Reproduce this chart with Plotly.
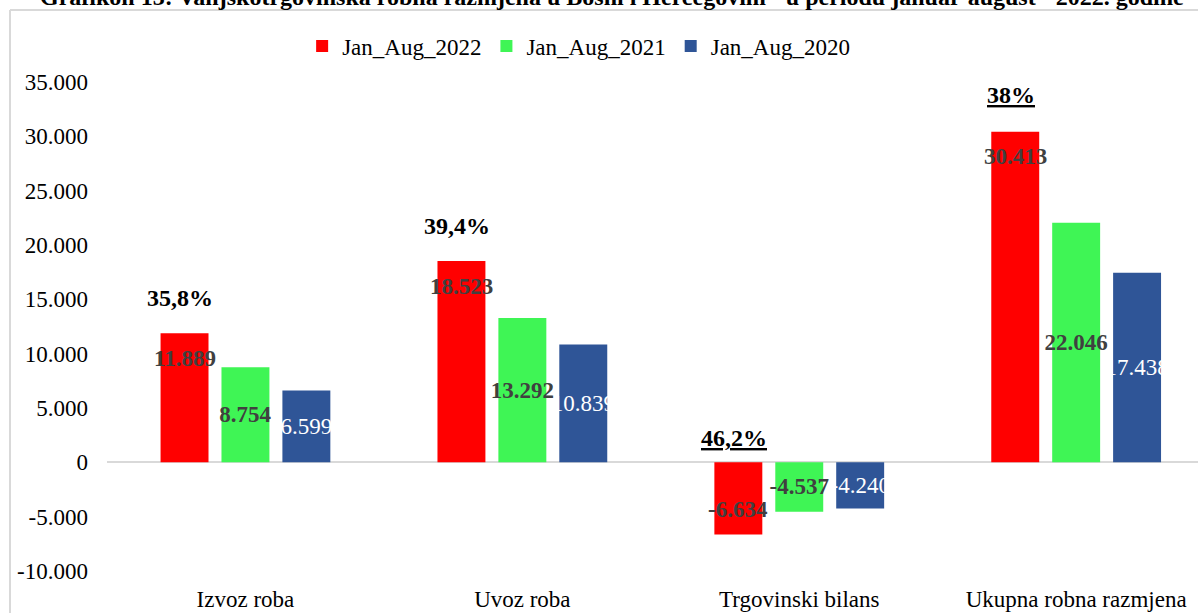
import plotly.graph_objects as go

# ---------------- data ----------------
categories = ["Izvoz roba", "Uvoz roba", "Trgovinski bilans", "Ukupna robna razmjena"]
series_names = ["Jan_Aug_2022", "Jan_Aug_2021", "Jan_Aug_2020"]
values_2022 = [11889, 18523, -6634, 30413]
values_2021 = [8754, 13292, -4537, 22046]
values_2020 = [6599, 10839, -4240, 17438]
pct_labels = ["35,8%", "39,4%", "46,2%", "38%"]
pct_underlined = [False, False, True, True]
y_tickvals = [-10000, -5000, 0, 5000, 10000, 15000, 20000, 25000, 30000, 35000]
y_ticktext = ["-10.000", "-5.000", "0", "5.000", "10.000", "15.000", "20.000", "25.000", "30.000", "35.000"]
title_text = ("Grafikon 13: Vanjskotrgovinska robna razmjena u Bosni i Hercegovini - "
              "u periodu januar-august - 2022. godine")

# ---------------- style ----------------
W, H = 1198, 613
ML, MR, MT, MB = 107, 0, 82, 42
FONT = "Liberation Serif"
colors = ["#FF0000", "#3FF555", "#2F5597"]
label_colors = ["#404040", "#404040", "#FFFFFF"]
label_bold = [True, True, False]
FS = 23

def fmt(v):
    s = f"{abs(v):,}".replace(",", ".")
    return ("-" if v < 0 else "") + s

x_pos = list(range(len(categories)))
all_series = [values_2022, values_2021, values_2020]

fig = go.Figure()
for k, (name, vals) in enumerate(zip(series_names, all_series)):
    texts = [f"<b>{fmt(v)}</b>" if label_bold[k] else fmt(v) for v in vals]
    fig.add_trace(go.Bar(
        x=x_pos, y=vals, name=name,
        marker=dict(color=colors[k], line=dict(width=0)),
        text=None if k == 0 else texts,
        textposition="inside",
        insidetextanchor="middle",
        textangle=0,
        constraintext="none",
        textfont=dict(family=FONT, size=FS, color=label_colors[k]),
        hoverinfo="skip",
    ))

bargap = 0.34
bargroupgap = 0.213
slot = (1 - bargap) / 3
red_off = -slot

annotations = []
# red data labels (placed near the bar end)
for i, v in enumerate(values_2022):
    annotations.append(dict(
        x=i + red_off, y=v, xref="x", yref="y",
        text=f"<b>{fmt(v)}</b>", showarrow=False,
        yanchor="middle", yshift=-25 if v > 0 else 25,
        font=dict(family=FONT, size=FS, color=label_colors[0]),
    ))
# growth percentages
pct_shift = [20, 20, 9, 22]
for i, (lab, ul) in enumerate(zip(pct_labels, pct_underlined)):
    v = max(values_2022[i], 0)
    f = dict(family=FONT, size=24, color="#000000", weight="bold")
    if ul:
        f["lineposition"] = "under"
    annotations.append(dict(
        x=i + red_off - 0.015, y=v, xref="x", yref="y",
        text=lab, showarrow=False, yanchor="bottom", yshift=pct_shift[i],
        font=f,
    ))

plot_w = W - ML - MR
plot_h = H - MT - MB

def px_x(p):
    return (p - ML) / plot_w

def px_y(p):
    return (H - MB - p) / plot_h

# cropped title at the very top
annotations.append(dict(
    x=px_x(612), y=px_y(12), xref="paper", yref="paper",
    text=f"<b>{title_text}</b>", showarrow=False,
    xanchor="center", yanchor="bottom",
    font=dict(family=FONT, size=24, color="#000000"),
))

shapes = [
    dict(type="line", xref="paper", yref="paper",
         x0=px_x(10), y0=px_y(H + 5), x1=px_x(10), y1=px_y(10),
         line=dict(color="#D9D9D9", width=2)),
    dict(type="line", xref="paper", yref="paper",
         x0=px_x(10), y0=px_y(10), x1=px_x(W + 5), y1=px_y(10),
         line=dict(color="#D9D9D9", width=2)),
]

fig.update_layout(
    width=W, height=H,
    margin=dict(l=ML, r=MR, t=MT, b=MB, pad=0),
    paper_bgcolor="white", plot_bgcolor="white",
    barmode="group", bargap=bargap, bargroupgap=bargroupgap,
    font=dict(family=FONT, size=FS, color="#000000"),
    showlegend=True,
    legend=dict(orientation="h", xref="container", yref="container",
                x=0.483, y=1 - 46 / H, xanchor="center", yanchor="middle",
                font=dict(family=FONT, size=FS, color="#000000"),
                itemwidth=30, traceorder="normal", bgcolor="rgba(0,0,0,0)"),
    xaxis=dict(range=[-0.5, 3.44], tickvals=x_pos, ticktext=categories,
               showgrid=False, zeroline=False, showline=False, ticks="",
               ticklabelstandoff=12, tickfont=dict(family=FONT, size=FS),
               fixedrange=True),
    yaxis=dict(range=[-10000, 35000], tickvals=y_tickvals, ticktext=y_ticktext,
               showgrid=False, zeroline=True, zerolinecolor="#D9D9D9", zerolinewidth=2,
               showline=False, ticks="", ticklabelstandoff=18,
               tickfont=dict(family=FONT, size=FS), fixedrange=True),
    annotations=annotations,
    shapes=shapes,
)

fig.write_html("out.html", config={"displayModeBar": False},
               post_script="document.body.style.margin='0';document.body.style.overflow='hidden';")
